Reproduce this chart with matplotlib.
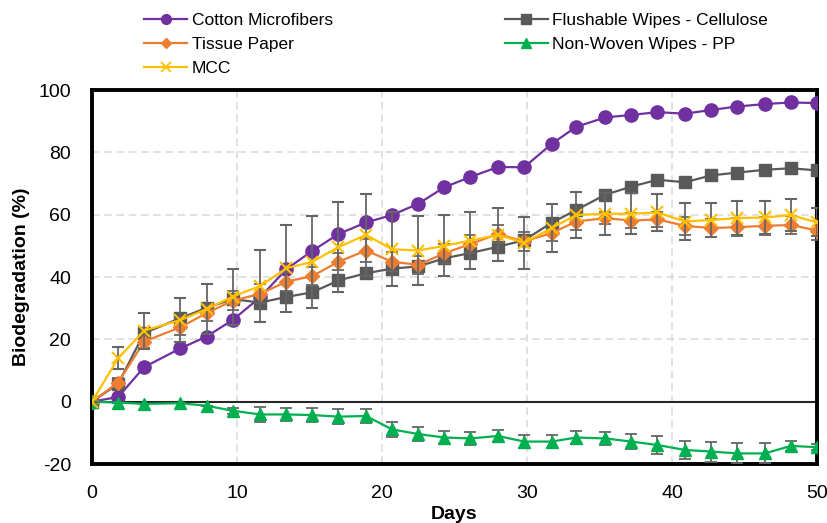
import matplotlib.pyplot as plt
from matplotlib.lines import Line2D
import numpy as np

plt.rcParams['font.family'] = ['Liberation Sans', 'DejaVu Sans']
plt.rcParams['axes.unicode_minus'] = False

days = [0, 1.8, 3.6, 6.1, 7.9, 9.7, 11.6, 13.4, 15.2, 17.0, 18.9, 20.7, 22.5, 24.3,
        26.1, 28.0, 29.8, 31.7, 33.4, 35.4, 37.2, 39.0, 40.9, 42.7, 44.5, 46.4, 48.2, 50.0]

cotton = [0, 1.5, 11.1, 17.1, 20.9, 26.2, 33.5, 42.5, 48.4, 53.8, 57.5, 59.9, 63.5, 68.8,
          72.1, 75.3, 75.2, 82.7, 88.2, 91.2, 92.0, 92.9, 92.4, 93.6, 94.7, 95.5, 96.0, 95.8]
flushable = [0, 5.7, 22.0, 26.8, 30.1, 32.9, 31.8, 33.6, 35.1, 38.9, 41.2, 42.7, 43.4, 46.0,
             47.7, 49.7, 51.8, 57.4, 61.5, 66.4, 69.0, 71.2, 70.4, 72.6, 73.5, 74.4, 74.9, 74.2]
tissue = [0, 6.1, 19.3, 23.9, 28.4, 32.4, 34.6, 38.5, 40.3, 44.9, 48.5, 44.9, 43.9, 47.6,
          50.6, 53.8, 51.4, 54.1, 57.8, 58.9, 58.1, 58.5, 56.4, 55.7, 56.0, 56.4, 56.7, 54.9]
tissue_err = [0, 1.5, 2.0, 2.5, 2.5, 3.0, 3.0, 3.0, 3.0, 2.7, 3.6, 3.0, 3.0, 3.0,
              3.0, 3.0, 3.0, 2.5, 2.7, 2.0, 2.5, 2.5, 3.0, 3.0, 3.0, 3.0, 3.0, 3.0]
mcc = [0, 13.9, 22.8, 26.2, 29.7, 33.7, 37.1, 42.8, 44.9, 49.6, 53.5, 48.9, 48.5, 50.0,
       51.7, 53.5, 51.0, 55.7, 59.9, 60.3, 60.3, 60.7, 57.8, 58.3, 58.9, 59.1, 59.9, 57.5]
mcc_err = [0, 3.5, 5.8, 7.0, 8.0, 9.0, 11.5, 14.0, 14.8, 14.5, 13.2, 11.8, 11.0, 9.8,
           9.0, 8.5, 8.3, 7.8, 7.5, 6.8, 6.5, 6.0, 6.0, 5.6, 5.5, 5.4, 5.0, 4.5]
nonwoven = [0, -0.3, -0.7, -0.5, -1.3, -2.9, -4.1, -4.1, -4.3, -4.8, -4.6, -8.9, -10.4, -11.5,
            -11.8, -11.0, -12.8, -12.8, -11.5, -11.8, -12.8, -13.9, -15.5, -16.0, -16.6, -16.6, -14.2, -14.6]
nonwoven_err = [0, 0, 0, 0, 0, 1.0, 2.4, 2.2, 2.2, 2.4, 2.4, 2.5, 2.2, 2.2,
                2.0, 2.0, 2.2, 2.2, 2.2, 2.2, 2.4, 2.8, 3.0, 3.2, 3.2, 3.2, 1.6, 1.0]

purple = '#7030A0'
gray = '#595959'
orange = '#ED7D31'
yellow = '#FFC000'
green = '#00B050'
errc = '#666666'

fig = plt.figure(figsize=(8.28, 5.23), dpi=100)
ax = fig.add_axes([0.1111, 0.1128, 0.8756, 0.7151])

ax.plot(days, cotton, color=purple, lw=1.6, marker='o', ms=9.5, zorder=3)
ax.plot(days, flushable, color=gray, lw=1.6, marker='s', ms=8.5, zorder=4)
ax.errorbar(days, tissue, yerr=tissue_err, color=orange, lw=1.6, marker='D', ms=7.5,
            ecolor=errc, elinewidth=1.3, capsize=4, capthick=1.3, zorder=5)
ax.errorbar(days, nonwoven, yerr=nonwoven_err, color=green, lw=1.6, marker='^', ms=8.5,
            ecolor=errc, elinewidth=1.3, capsize=4, capthick=1.3, zorder=6)
ax.errorbar(days, mcc, yerr=mcc_err, color=yellow, lw=1.6, marker='x', ms=9, mew=1.5,
            ecolor=errc, elinewidth=1.3, capsize=4, capthick=1.3, zorder=7)

ax.axhline(0, color='#262626', lw=1.5, zorder=2)

ax.set_xlim(0, 50)
ax.set_ylim(-20, 100)
ax.set_xticks([0, 10, 20, 30, 40, 50])
ax.set_yticks([-20, 0, 20, 40, 60, 80, 100])
for v in [10, 20, 30, 40]:
    ax.axvline(v, color='#D9D9D9', lw=1.1, ls=(0, (5, 3)), zorder=1)
for v in [20, 40, 60, 80]:
    ax.axhline(v, color='#D9D9D9', lw=1.1, ls=(0, (5, 3)), zorder=1)

for s in ax.spines.values():
    s.set_linewidth(2.8)
    s.set_color('black')
ax.tick_params(length=0, labelsize=14, pad=15)

ax.set_xlabel('Days', fontsize=14, fontweight='bold', labelpad=3)
ax.set_ylabel('Biodegradation (%)', fontsize=14, fontweight='bold', labelpad=6)

# legend handles without the error bars
handles = [
    Line2D([], [], color=purple, lw=1.6, marker='o', ms=7),
    Line2D([], [], color=orange, lw=1.6, marker='D', ms=5.5),
    Line2D([], [], color=yellow, lw=1.6, marker='x', ms=7, mew=1.3),
    Line2D([], [], color=gray, lw=1.6, marker='s', ms=6.5),
    Line2D([], [], color=green, lw=1.6, marker='^', ms=6.5),
]
labels = ['Cotton Microfibers', 'Tissue Paper', 'MCC', 'Flushable Wipes - Cellulose', 'Non-Woven Wipes - PP']
fig.legend(handles, labels, loc='upper left', bbox_to_anchor=(0.155, 1.005), ncol=2,
           frameon=False, fontsize=12.5, handlelength=2.5, columnspacing=9.9,
           labelspacing=0.5, handletextpad=0.25)

fig.savefig('out.png', dpi=100)
